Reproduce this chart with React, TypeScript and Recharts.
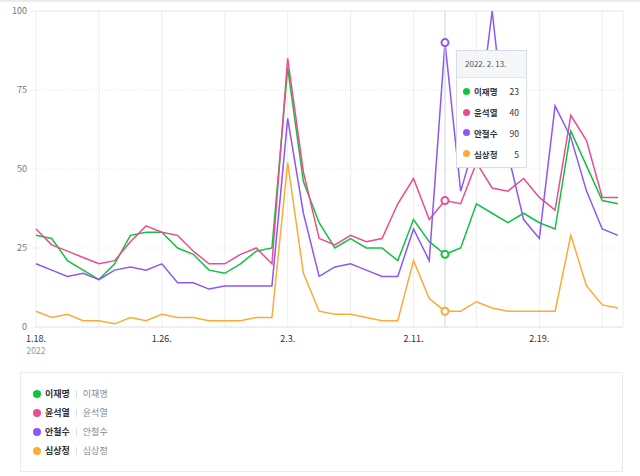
import { LineChart, Line, XAxis, YAxis, CartesianGrid, Tooltip, ReferenceLine } from "recharts";

const dates = [
  "2022. 1. 18.", "2022. 1. 19.", "2022. 1. 20.", "2022. 1. 21.", "2022. 1. 22.", "2022. 1. 23.",
  "2022. 1. 24.", "2022. 1. 25.", "2022. 1. 26.", "2022. 1. 27.", "2022. 1. 28.", "2022. 1. 29.",
  "2022. 1. 30.", "2022. 1. 31.", "2022. 2. 1.", "2022. 2. 2.", "2022. 2. 3.", "2022. 2. 4.",
  "2022. 2. 5.", "2022. 2. 6.", "2022. 2. 7.", "2022. 2. 8.", "2022. 2. 9.", "2022. 2. 10.",
  "2022. 2. 11.", "2022. 2. 12.", "2022. 2. 13.", "2022. 2. 14.", "2022. 2. 15.", "2022. 2. 16.",
  "2022. 2. 17.", "2022. 2. 18.", "2022. 2. 19.", "2022. 2. 20.", "2022. 2. 21.", "2022. 2. 22.",
  "2022. 2. 23.", "2022. 2. 24.",
];

const leeJaemyung = [29, 28, 21, 18, 15, 20, 29, 30, 30, 25, 23, 18, 17, 20, 24, 25, 82, 46, 33, 25, 28, 25, 25, 21, 34, 27, 23, 25, 39, 36, 33, 36, 33, 31, 62, 51, 40, 39];
const yoonSukyeol = [31, 26, 24, 22, 20, 21, 27, 32, 30, 29, 24, 20, 20, 23, 25, 20, 85, 49, 28, 26, 29, 27, 28, 39, 47, 34, 40, 39, 52, 44, 43, 47, 41, 37, 67, 59, 41, 41];
const ahnCheolsoo = [20, 18, 16, 17, 15, 18, 19, 18, 20, 14, 14, 12, 13, 13, 13, 13, 66, 36, 16, 19, 20, 18, 16, 16, 31, 21, 90, 43, 60, 100, 55, 34, 28, 70, 60, 43, 31, 29];
const simSangjung = [5, 3, 4, 2, 2, 1, 3, 2, 4, 3, 3, 2, 2, 2, 3, 3, 52, 17, 5, 4, 4, 3, 2, 2, 21, 9, 5, 5, 8, 6, 5, 5, 5, 5, 29, 13, 7, 6];

const seriesNames = ["이재명", "윤석열", "안철수", "심상정"];
const seriesColors = ["#12c23f", "#ec4c8e", "#8b58f5", "#fcab33"];
const seriesValues = [leeJaemyung, yoonSukyeol, ahnCheolsoo, simSangjung];

const yTicks = [0, 25, 50, 75, 100];
const labeledDates = ["2022. 1. 18.", "2022. 1. 26.", "2022. 2. 3.", "2022. 2. 11.", "2022. 2. 19."];
const yearLabel = "2022";
const activeIndex = 26;

const FONT = '"Noto Sans CJK KR", "Noto Sans", sans-serif';

const data = dates.map((d, i) => {
  const row: Record<string, string | number> = { date: d };
  seriesNames.forEach((n, j) => {
    row[n] = seriesValues[j][i];
  });
  return row;
});

const shortDate = (d: string) => d.slice(6).replace(/ /g, "");

function DateTick({ x, y, payload }: any) {
  const v = payload.value as string;
  if (!labeledDates.includes(v)) return <g />;
  return (
    <g>
      <text x={x} y={y + 6.5} textAnchor="middle" fill="#333" fontSize={9}>
        {shortDate(v)}
      </text>
      {v === dates[0] && (
        <text x={x} y={y + 18.5} textAnchor="middle" fill="#999" fontSize={8.5}>
          {yearLabel}
        </text>
      )}
    </g>
  );
}

function TipBox({ payload, label }: any) {
  if (!payload || payload.length === 0) return null;
  return (
    <div
      style={{
        width: 71,
        boxSizing: "border-box",
        background: "#fff",
        border: "1px solid #d8dce4",
        fontFamily: FONT,
        fontSize: 8.5,
        color: "#333",
      }}
    >
      <div
        style={{
          height: 26,
          lineHeight: "26px",
          background: "#f4f6fa",
          borderBottom: "1px solid #e3e6ec",
          paddingLeft: 8,
          color: "#555",
          fontSize: 8,
        }}
      >
        {label}
      </div>
      <div style={{ padding: "3px 7px 3px 6px" }}>
        {payload.map((p: any) => (
          <div key={p.name} style={{ display: "flex", alignItems: "center", height: 20.8 }}>
            <span
              style={{
                width: 7,
                height: 7,
                borderRadius: "50%",
                background: p.color,
                marginRight: 4,
                flex: "none",
              }}
            />
            <span style={{ fontWeight: 700, flex: 1 }}>{p.name}</span>
            <span>{p.value}</span>
          </div>
        ))}
      </div>
    </div>
  );
}

export default function App() {
  return (
    <div style={{ position: "absolute", left: 0, top: 0, width: 640, height: 476, background: "#fff", fontFamily: FONT }}>
      <div style={{ position: "absolute", left: 0, top: 0, width: 640, height: 2, background: "#ececec" }} />
      <LineChart
        width={640}
        height={360}
        data={data}
        margin={{ top: 11, right: 17, left: 0, bottom: 0 }}
        style={{ fontFamily: FONT }}
      >
        <CartesianGrid stroke="#eeeeee" horizontal={false} />
        <CartesianGrid stroke="#e6e6e6" strokeDasharray="1 2" vertical={false} />
        <ReferenceLine y={100} stroke="#ebebeb" />
        <XAxis
          dataKey="date"
          interval={3}
          tick={<DateTick />}
          tickLine={false}
          axisLine={{ stroke: "#e4e4e4" }}
          height={33}
          padding={{ left: 0, right: 5 }}
        />
        <YAxis
          domain={[0, 100]}
          ticks={yTicks}
          width={36}
          tickSize={6}
          tickMargin={3}
          tickLine={{ stroke: "#eeeeee" }}
          axisLine={false}
          tick={{ fill: "#777", fontSize: 9 }}
        />
        <Tooltip
          defaultIndex={activeIndex}
          active
          isAnimationActive={false}
          position={{ x: 456, y: 50 }}
          cursor={{ stroke: "#ccd4e2", strokeWidth: 1 }}
          content={(props: any) => <TipBox {...props} />}
        />
        {seriesNames.map((n, j) => (
          <Line
            key={n}
            type="linear"
            dataKey={n}
            name={n}
            stroke={seriesColors[j]}
            strokeWidth={1.5}
            dot={false}
            activeDot={{ r: 3.5, fill: "#fff", stroke: seriesColors[j], strokeWidth: 2 }}
            isAnimationActive={false}
          />
        ))}
      </LineChart>
      <div
        style={{
          position: "absolute",
          left: 20,
          top: 372,
          width: 603,
          height: 100,
          boxSizing: "border-box",
          border: "1px solid #ebebeb",
          padding: "11px 0 0 12px",
          fontSize: 9,
        }}
      >
        {seriesNames.map((n, j) => (
          <div key={n} style={{ display: "flex", alignItems: "center", height: 19.1 }}>
            <span
              style={{ width: 8, height: 8, borderRadius: "50%", background: seriesColors[j], marginRight: 4 }}
            />
            <span style={{ fontWeight: 700, color: "#333" }}>{n}</span>
            <span style={{ width: 1, height: 8, background: "#dddddd", margin: "0 6px" }} />
            <span style={{ color: "#888" }}>{n}</span>
          </div>
        ))}
      </div>
    </div>
  );
}
